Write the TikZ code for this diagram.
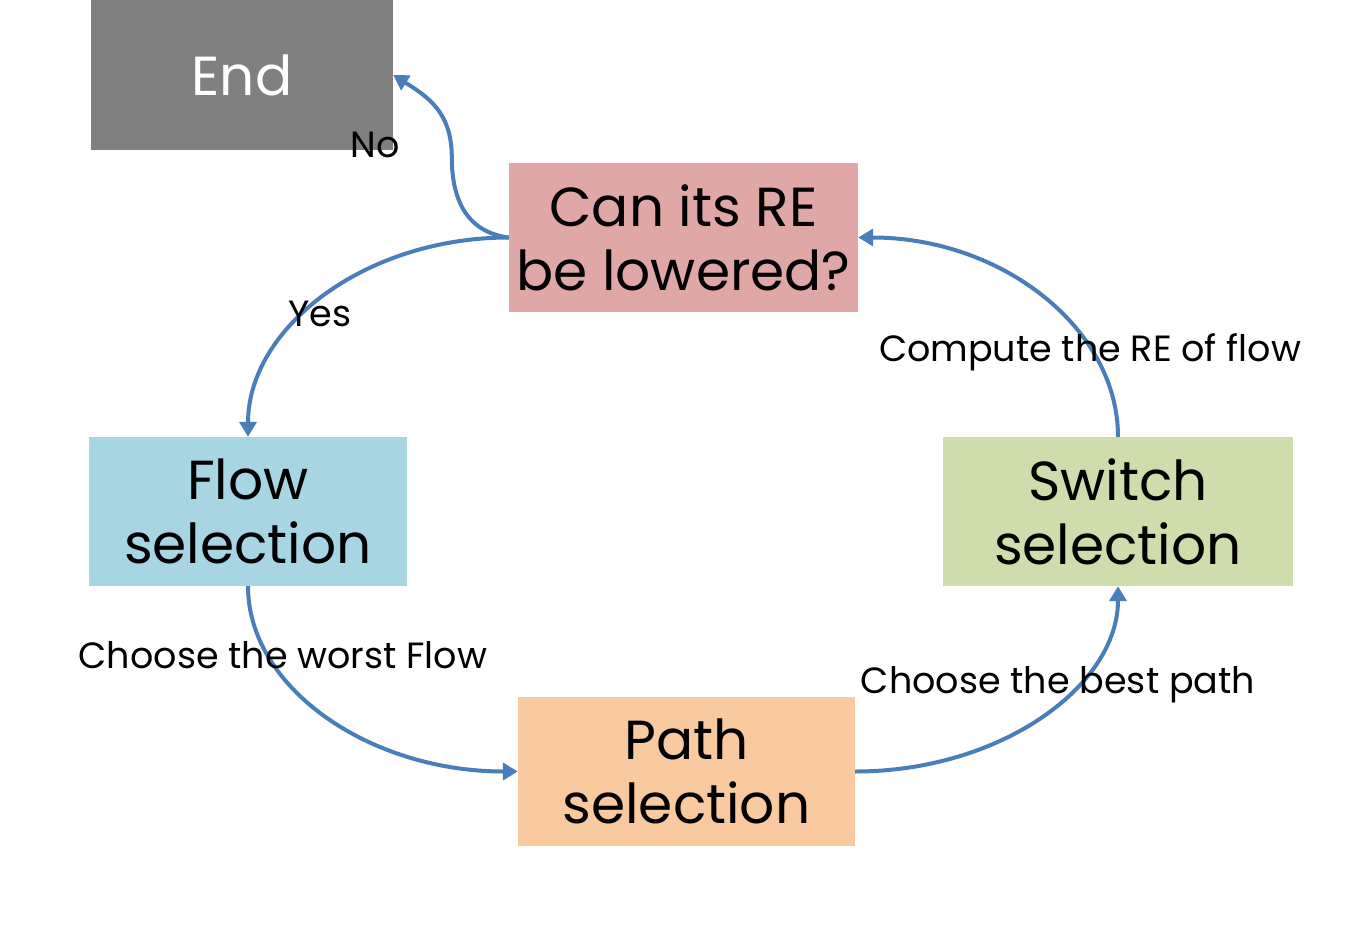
\documentclass[tikz,border=0pt]{standalone}
\usepackage{fontspec}
\setmainfont{Poppins}
\usetikzlibrary{arrows.meta}
\definecolor{endgray}{HTML}{808080}
\definecolor{canred}{HTML}{DFA7A6}
\definecolor{flowblue}{HTML}{A7D5E2}
\definecolor{switchgreen}{HTML}{CFDDAC}
\definecolor{pathorange}{HTML}{F9C9A0}
\definecolor{arrowblue}{HTML}{4A7EBB}
\tikzset{
  box/.style={inner sep=0pt, align=center, font=\fontsize{55}{64}\selectfont},
  conn/.style={draw=arrowblue, line width=4pt, -{Triangle[length=15pt,width=17pt]}},
  lbl/.style={inner sep=0pt, anchor=base, font=\fontsize{36.5}{40}\selectfont}
}
\begin{document}
\begin{tikzpicture}[x=1pt,y=-1pt]
\useasboundingbox (0,0) rectangle (1350,950);
\fill[white] (0,0) rectangle (1350,950);
\node[box, fill=endgray, text=white, minimum width=302pt, minimum height=150pt] (end) at (242,75) {End};
\node[box, fill=canred, minimum width=349pt, minimum height=149pt] (can) at (683.5,237.5) {Can its RE\\be lowered?};
\node[box, fill=flowblue, minimum width=318pt, minimum height=149pt] (flow) at (248,511.5) {Flow\\selection};
\node[box, fill=switchgreen, minimum width=350pt, minimum height=149pt] (switch) at (1118,511.5) {Switch\\selection};
\node[box, fill=pathorange, minimum width=337pt, minimum height=149pt] (path) at (686.5,771.5) {Path\\selection};
\draw[conn] (can.west) .. controls +(-40,-5) and +(0,45) .. ++(-57,-80) .. controls +(0,-45) and +(35,22) .. (end.east);
\draw[conn] (can.west) .. controls ++(-144,0) and ++(0,-109) .. (flow.north);
\draw[conn] (flow.south) .. controls ++(0,102) and ++(-148,0) .. (path.west);
\draw[conn] (path.east) .. controls ++(145,0) and ++(0,100) .. (switch.south);
\draw[conn] (switch.north) .. controls ++(0,-109) and ++(143,0) .. (can.east);
\node[lbl] (no) at (375,157) {No};
\node[lbl] (yes) at (320,326) {Yes};
\node[lbl] (worst) at (283,668) {Choose the worst Flow};
\node[lbl] (best) at (1058,693) {Choose the best path};
\node[lbl] (compute) at (1090,361) {Compute the RE of flow};
\end{tikzpicture}
\end{document}
